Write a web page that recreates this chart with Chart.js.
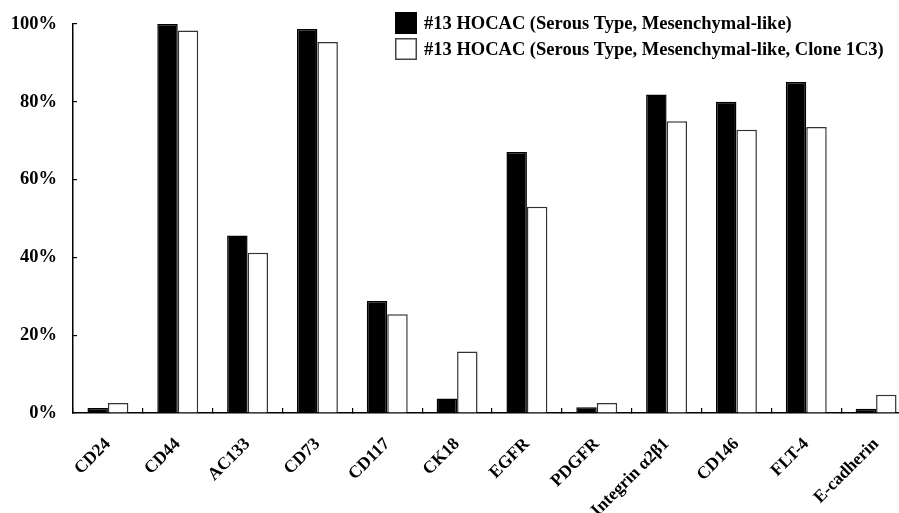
<!DOCTYPE html>
<html>
<head>
<meta charset="utf-8">
<script src="https://cdn.jsdelivr.net/npm/chart.js@4.4.1/dist/chart.umd.min.js"></script>
<style>
  html, body { margin: 0; padding: 0; background: #fff; overflow: hidden; }
  #wrap { width: 912px; height: 513px; position: relative; }
</style>
</head>
<body>
<div id="wrap"><canvas id="c" width="912" height="513"></canvas></div>
<script>
const categories = ["CD24", "CD44", "AC133", "CD73", "CD117", "CK18", "EGFR", "PDGFR", "Integrin α2β1", "CD146", "FLT-4", "E-cadherin"];
const seriesParent = [1.3, 100, 45.6, 98.7, 28.8, 3.7, 67.1, 1.5, 81.9, 80.0, 85.1, 1.1];
const seriesClone = [2.6, 98.3, 41.2, 95.4, 25.4, 15.8, 53.0, 2.6, 75.0, 72.8, 73.5, 4.7];
const seriesLabels = ["#13 HOCAC (Serous Type, Mesenchymal-like)", "#13 HOCAC (Serous Type, Mesenchymal-like, Clone 1C3)"];
const yTicks = [0, 20, 40, 60, 80, 100];

const FONT = "'Liberation Serif', 'Times New Roman', serif";

const legendPlugin = {
  id: 'customLegend',
  afterDraw(chart) {
    const ctx = chart.ctx;
    ctx.save();
    const boxX = 395, boxW = 22, boxH = 22, textX = 424;
    const rowsY = [12, 38];
    chart.data.datasets.forEach((ds, i) => {
      const y = rowsY[i];
      ctx.fillStyle = ds.backgroundColor;
      ctx.fillRect(boxX, y, boxW, boxH);
      ctx.lineWidth = 1.5;
      ctx.strokeStyle = i === 0 ? '#000' : '#444';
      ctx.strokeRect(boxX + 0.75, y + 0.75, boxW - 1.5, boxH - 1.5);
      ctx.fillStyle = '#000';
      ctx.font = "bold 18.5px " + FONT;
      ctx.textBaseline = 'middle';
      ctx.textAlign = 'left';
      ctx.fillText(ds.label, textX, y + boxH / 2 + 1);
    });
    ctx.restore();
  }
};

new Chart(document.getElementById('c'), {
  type: 'bar',
  data: {
    labels: categories,
    datasets: [
      { label: seriesLabels[0], data: seriesParent, backgroundColor: '#000000', borderColor: '#000000', borderWidth: 1.5 },
      { label: seriesLabels[1], data: seriesClone, backgroundColor: '#ffffff', borderColor: '#333333', borderWidth: 1.5 }
    ]
  },
  options: {
    responsive: false,
    animation: false,
    devicePixelRatio: 1,
    layout: { padding: { top: 24, right: 1, left: 0, bottom: 0 } },
    datasets: { bar: { categoryPercentage: 0.586, barPercentage: 1.0 } },
    plugins: { legend: { display: false }, tooltip: { enabled: false } },
    scales: {
      x: {
        offset: true,
        grid: { display: true, drawOnChartArea: false, drawTicks: true, tickLength: -5, color: '#000', lineWidth: 1.2, offset: true },
        border: { display: true, color: '#000', width: 1.5 },
        ticks: {
          autoSkip: false, minRotation: 45, maxRotation: 45, padding: 26,
          color: '#000', font: { family: FONT, size: 17.5, weight: 'bold' }
        },
        afterFit(scale) { scale.height = 100; scale.paddingLeft = 0; scale.paddingRight = 0; scale.paddingTop = 0; scale.paddingBottom = 0; }
      },
      y: {
        min: 0, max: 100,
        afterBuildTicks(scale) { scale.ticks = yTicks.map(v => ({ value: v })); },
        grid: { display: true, drawOnChartArea: false, drawTicks: true, tickLength: -4, color: '#000', lineWidth: 1.2 },
        border: { display: true, color: '#000', width: 1.5 },
        ticks: {
          padding: 20, color: '#000',
          font: { family: FONT, size: 18.5, weight: 'bold' },
          callback: v => v + '%'
        },
        afterFit(scale) { scale.width = 73; scale.paddingLeft = 0; scale.paddingRight = 0; scale.paddingTop = 0; scale.paddingBottom = 0; }
      }
    }
  },
  plugins: [legendPlugin]
});
</script>
</body>
</html>
